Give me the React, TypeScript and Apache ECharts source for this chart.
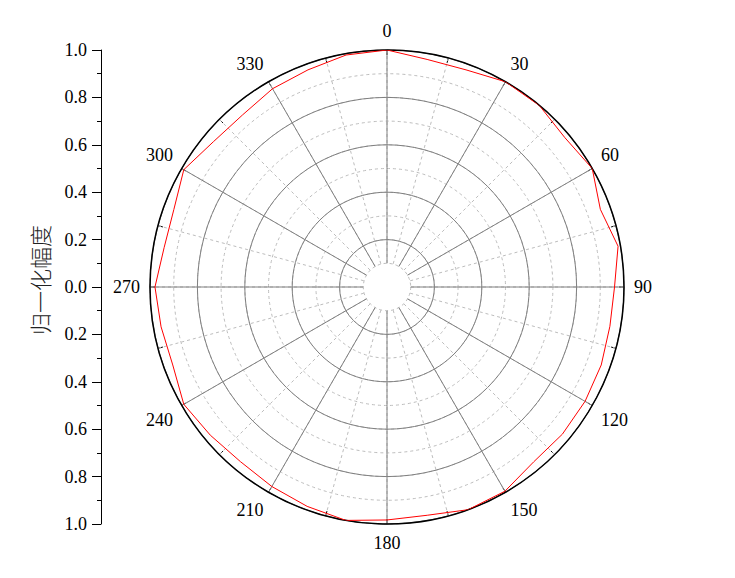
import React, { useEffect, useRef } from "react";
import * as echarts from "echarts";

const angles = [0, 10, 20, 30, 40, 50, 60, 70, 80, 90, 100, 110, 120, 130, 140, 150, 160, 170, 180, 190, 200, 210, 220, 230, 240, 250, 260, 270, 280, 290, 300, 310, 320, 330, 340, 350, 360];
const amplitude = [1.0, 0.975, 0.975, 1.0, 1.0, 0.98, 1.0, 0.958, 0.99, 0.96, 0.955, 0.962, 0.965, 0.966, 0.963, 0.995, 1.0, 0.978, 0.983, 1.0, 0.985, 0.972, 0.962, 0.973, 0.99, 0.962, 0.968, 0.979, 0.955, 0.957, 0.99, 0.955, 0.948, 0.966, 0.975, 0.994, 1.0];
const leftTicks = [0, 0.2, 0.4, 0.6, 0.8, 1.0];
const yName = "归一化幅度";

const SERIF = "'Liberation Serif', 'Times New Roman', serif";

export default function App() {
  const ref = useRef<HTMLDivElement>(null);
  useEffect(() => {
    if (!ref.current) return;
    const chart = echarts.init(ref.current, null, { renderer: "svg" });
    const cx = 387, cy = 287, R = 237, r0 = 23.7, r02 = 47.4;
    const leftAxisCommon = {
      type: "value",
      min: leftTicks[0],
      max: leftTicks[leftTicks.length - 1],
      interval: 0.2,
      position: "left",
      axisLine: { show: true, lineStyle: { color: "#000", width: 1 } },
      axisTick: { show: true, length: 9, lineStyle: { color: "#000" } },
      minorTick: { show: true, splitNumber: 2, length: 4, lineStyle: { color: "#000" } },
      splitLine: { show: false },
      axisLabel: {
        margin: 14,
        color: "#000",
        fontFamily: SERIF,
        fontSize: 18,
        formatter: (v: number) => v.toFixed(1),
      },
    };
    const hiddenRadius = {
      axisLine: { show: false }, axisTick: { show: false }, axisLabel: { show: false },
    };
    chart.setOption({
      animation: false,
      backgroundColor: "#fff",
      grid: [
        { left: 101, top: 50, width: 10, height: cy - 50 },
        { left: 101, top: cy, width: 10, height: 524 - cy },
      ],
      xAxis: [
        { type: "value", gridIndex: 0, show: false },
        { type: "value", gridIndex: 1, show: false },
      ],
      yAxis: [
        { ...leftAxisCommon, gridIndex: 0 },
        { ...leftAxisCommon, gridIndex: 1, inverse: true, axisLabel: { ...leftAxisCommon.axisLabel, showMinLabel: false } },
      ],
      polar: [
        { center: [cx, cy], radius: [r0, R] },
        { center: [cx, cy], radius: [r02, R] },
        { center: [cx, cy], radius: [r0, R] },
        { center: [cx, cy], radius: [0, R] },
      ],
      radiusAxis: [
        {
          polarIndex: 0, type: "value", min: 0.1, max: 1, interval: 0.1, ...hiddenRadius,
          splitLine: { show: true, lineStyle: { color: "#bdbdbd", width: 1, type: [3, 3] } },
        },
        {
          polarIndex: 1, type: "value", min: 0.2, max: 1, interval: 0.2, ...hiddenRadius,
          splitLine: { show: true, lineStyle: { color: "#808080", width: 1 } },
        },
        {
          polarIndex: 2, type: "value", min: 0.1, max: 1, ...hiddenRadius,
          splitLine: { show: false },
        },
        {
          polarIndex: 3, type: "value", min: 0, max: 1, ...hiddenRadius,
          splitLine: { show: false },
        },
      ],
      angleAxis: [
        {
          polarIndex: 0, type: "value", min: 0, max: 360, interval: 15, startAngle: 90, clockwise: true,
          axisLine: { show: false }, axisLabel: { show: false },
          axisTick: { show: true, inside: true, length: 5, lineStyle: { color: "#000", width: 1 } },
          splitLine: { show: true, lineStyle: { color: "#bdbdbd", width: 1, type: [3, 3] } },
        },
        {
          polarIndex: 1, type: "value", min: 0, max: 360, interval: 30, startAngle: 90,
          axisLine: { show: false }, axisLabel: { show: false }, axisTick: { show: false },
          splitLine: { show: false },
        },
        {
          polarIndex: 2, type: "value", min: 0, max: 360, interval: 30, startAngle: 90, clockwise: true,
          axisLine: { show: false },
          axisTick: { show: false },
          splitLine: { show: true, lineStyle: { color: "#808080", width: 1 } },
          axisLabel: {
            show: true,
            margin: 10,
            color: "#000",
            fontFamily: SERIF,
            fontSize: 18,
            formatter: (v: number) => (v >= 360 ? "" : String(v)),
          },
        },
        {
          polarIndex: 3, type: "value", min: 0, max: 360, interval: 30, startAngle: 90, clockwise: true,
          axisLine: { show: true, lineStyle: { color: "#000", width: 1.5 } },
          axisTick: { show: false }, axisLabel: { show: false },
          splitLine: { show: false },
        },
      ],
      graphic: [
        {
          type: "text",
          x: 39,
          y: 280,
          rotation: Math.PI / 2,
          style: {
            text: yName,
            fontFamily: "'Noto Sans CJK SC', sans-serif",
            fontSize: 22,
            fontWeight: 300,
            fill: "#222",
            align: "center",
            verticalAlign: "middle",
          },
        },
      ],
      series: [
        {
          type: "line",
          coordinateSystem: "polar",
          polarIndex: 2,
          symbol: "none",
          lineStyle: { color: "#ff0000", width: 1 },
          data: angles.map((a, i) => [amplitude[i], a]),
          z: 10,
        },
      ],
    });
    return () => chart.dispose();
  }, []);
  return <div ref={ref} style={{ position: "absolute", left: 0, top: 0, width: 735, height: 578 }} />;
}
